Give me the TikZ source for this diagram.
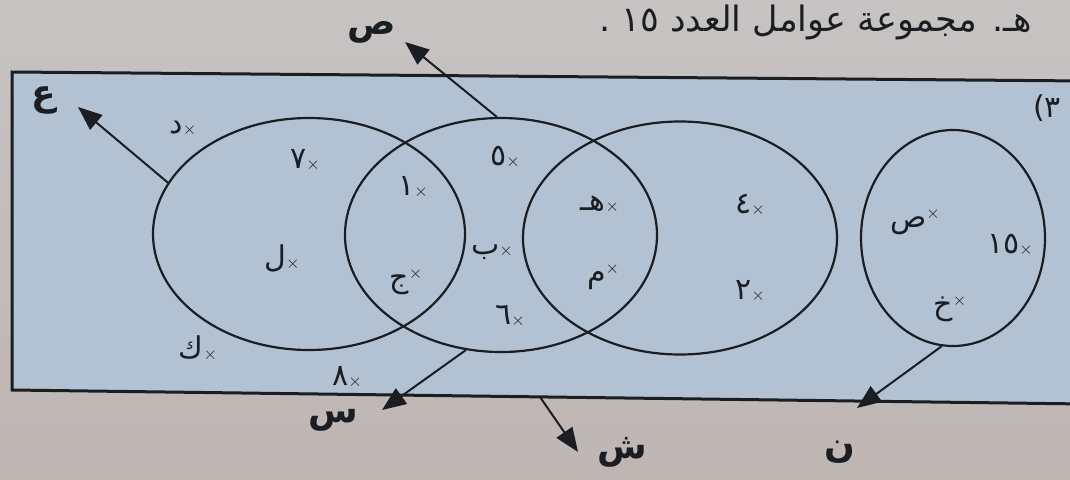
\documentclass[tikz,border=0pt]{standalone}
\usepackage{fontspec}
\newfontfamily\ar[Script=Arabic]{DejaVu Sans}
\newfontfamily\djv{DejaVu Sans}
\TeXXeTstate=1
\usetikzlibrary{arrows.meta,shapes.geometric,calc}
\definecolor{pagetop}{HTML}{C6C3C2}
\definecolor{pagebot}{HTML}{BEB6B3}
\definecolor{panel}{HTML}{B3C2D3}
\definecolor{ink}{HTML}{1A1D22}
\newcommand\xm{\raisebox{-1pt}{\normalfont\fontsize{16}{16}\selectfont$\times$}}
\newcommand\xup{\raisebox{9pt}{\normalfont\fontsize{16}{16}\selectfont$\times$}}
\begin{document}
\begin{tikzpicture}[x=1pt,y=-1pt,
  setshape/.style={draw=ink, line width=2.2pt, ellipse, inner sep=0pt},
  arr/.style={draw=ink, line width=2pt, -{Triangle[length=24pt,width=19pt]}},
  lbl/.style={font=\ar\bfseries\fontsize{36}{42}\selectfont, text=ink, inner sep=0pt},
  elem/.style={font=\ar\fontsize{30}{34}\selectfont, text=ink, inner sep=0pt},
]
\shade[top color=pagetop, bottom color=pagebot] (0,0) rectangle (1070,479);
\useasboundingbox (0,0) rectangle (1070,479);
% title
\node[font=\ar\fontsize{35}{40}\selectfont, text=ink, anchor=east, inner sep=0pt] (title) at (1032,22) {\beginR هـ. مجموعة عوامل العدد ١٥ .\endR};
% frame (slightly tilted, running off the right edge)
\coordinate (f1) at (12,72);
\coordinate (f2) at (1085,81);
\coordinate (f3) at (1085,404);
\coordinate (f4) at (12,390);
\draw[ink, line width=3pt, fill=panel] (f1) -- (f2) -- (f3) -- (f4) -- cycle;
% sets
\node[setshape, minimum width=312pt, minimum height=232pt] (A) at (309,234) {};
\node[setshape, minimum width=312pt, minimum height=234pt] (B) at (501,235) {};
\node[setshape, minimum width=314pt, minimum height=233pt] (C) at (680,238) {};
\node[setshape, minimum width=184pt, minimum height=216pt] (N) at (953,238) {};
% arrow ends and labels
\coordinate (tA) at (78,107);
\coordinate (tB) at (405,42);
\coordinate (tS) at (382,410);
\coordinate (sSh) at ($(f4)!0.492!(f3)$);
\coordinate (tSh) at (578,452);
\coordinate (tN) at (857,408);
\draw[arr] (A.160) -- (tA);
\draw[arr] (B.92) -- (tB);
\draw[arr] (B.253) -- (tS);
\draw[arr] (sSh) -- (tSh);
\draw[arr] (N.264) -- (tN);
\node[lbl] (lA) at (44,100) {ع};
\node[lbl] (lB) at (372,32) {ص};
\node[lbl] (lS) at (333,420) {س};
\node[lbl] (lSh) at (622,452) {ش};
\node[lbl] (lN) at (840,452) {ن};
\node[text=ink, inner sep=0pt, font=\fontsize{30}{34}\selectfont] (num) at (1047,108) {{\djv(}{\ar ٣}};
% elements
\node[elem] (e1) at (183,128) {د\xm};
\node[elem] (e2) at (305,160) {٧\xm};
\node[elem] (e3) at (282,258) {ل\xm};
\node[elem] (e4) at (198,348) {ك\xm};
\node[elem] (e5) at (347,377) {٨\xm};
\node[elem] (e6) at (413,187) {١\xm};
\node[elem] (e7) at (406,282) {ج\xup};
\node[elem] (e8) at (505,157) {٥\xm};
\node[elem] (e9) at (492,252) {ب\xm};
\node[elem] (e10) at (510,316) {٦\xm};
\node[elem] (e11) at (600,204) {هـ\xm};
\node[elem] (e12) at (603,277) {م\xup};
\node[elem] (e13) at (750,205) {٤\xm};
\node[elem] (e14) at (750,291) {٢\xm};
\node[elem] (e15) at (915,222) {ص\xup};
\node[elem] (e16) at (1010,245) {١٥\xm};
\node[elem] (e17) at (950,309) {خ\xup};
\end{tikzpicture}
\end{document}
